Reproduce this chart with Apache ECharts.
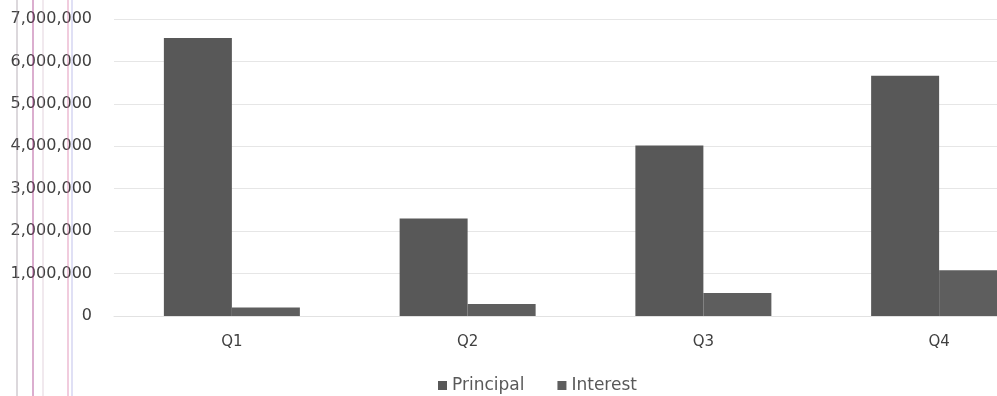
<!DOCTYPE html>
<html>
<head>
<meta charset="utf-8">
<style>
  html, body { margin: 0; padding: 0; background: #ffffff; }
  #chart { width: 997px; height: 396px; }
</style>
<script src="https://cdn.jsdelivr.net/npm/echarts@6/dist/echarts.min.js"></script>
</head>
<body>
<div id="chart"></div>
<script>
// Quarterly repayment split
const quarters = ['Q1', 'Q2', 'Q3', 'Q4'];
const principal = [6550000, 2300000, 4020000, 5660000];
const interest = [200000, 280000, 540000, 1080000];
const yTicks = [0, 1000000, 2000000, 3000000, 4000000, 5000000, 6000000, 7000000];

const chart = echarts.init(document.getElementById('chart'), null, { renderer: 'canvas' });

const fmt = v => v.toString().replace(/\B(?=(\d{3})+(?!\d))/g, ',');

// faint vertical streaks along the left margin
const streaks = [
  { x: 17, c: 'rgba(150,140,150,0.45)' },
  { x: 33, c: 'rgba(170,60,140,0.55)' },
  { x: 43, c: 'rgba(200,170,190,0.35)' },
  { x: 68, c: 'rgba(220,120,170,0.5)' },
  { x: 72, c: 'rgba(150,150,220,0.4)' }
];

chart.setOption({
  animation: false,
  backgroundColor: '#ffffff',
  textStyle: { fontFamily: 'DejaVu Sans' },
  // plot area runs past the right edge, so Q4's interest bar is clipped
  grid: {
    left: 114, width: 943, top: 19, bottom: 80,
    containLabel: false, outerBoundsMode: 'none'
  },
  legend: {
    data: ['Principal', 'Interest'],
    left: 433,
    top: 372,
    itemWidth: 9,
    itemHeight: 9,
    itemGap: 33,
    icon: 'rect',
    textStyle: { color: '#595959', fontSize: 17, fontFamily: 'DejaVu Sans' }
  },
  xAxis: {
    type: 'category',
    data: quarters,
    axisLine: { show: true, lineStyle: { color: '#e2e2e2' } },
    axisTick: { show: false },
    axisLabel: { color: '#404040', fontSize: 15, margin: 19 }
  },
  yAxis: {
    type: 'value',
    min: yTicks[0],
    max: yTicks[yTicks.length - 1],
    interval: 1000000,
    axisLine: { show: false },
    axisTick: { show: false },
    splitLine: { lineStyle: { color: '#e6e6e6', width: 1 } },
    axisLabel: { color: '#404040', fontSize: 16, margin: 22, formatter: fmt }
  },
  series: [
    {
      name: 'Principal',
      type: 'bar',
      data: principal,
      barWidth: 68,
      barGap: '0%',
      itemStyle: { color: '#585858' }
    },
    {
      name: 'Interest',
      type: 'bar',
      data: interest,
      barWidth: 68,
      barGap: '0%',
      itemStyle: { color: '#5e5e5e' }
    }
  ],
  graphic: streaks.map(s => ({
    type: 'line',
    silent: true,
    z: 100,
    shape: { x1: s.x, y1: 0, x2: s.x, y2: 396 },
    style: { stroke: s.c, lineWidth: 1.5 }
  }))
});
</script>
</body>
</html>
